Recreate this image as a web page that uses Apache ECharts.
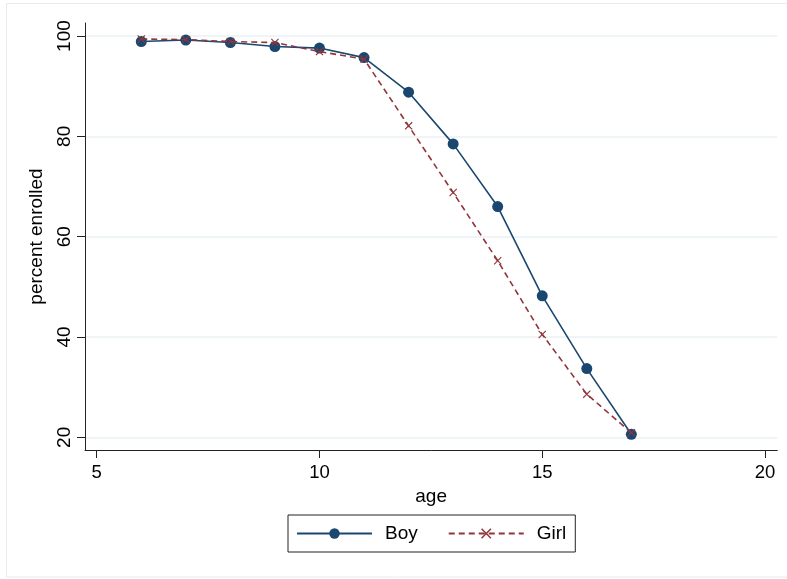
<!DOCTYPE html>
<html>
<head>
<meta charset="utf-8">
<script src="https://cdn.jsdelivr.net/npm/echarts@6/dist/echarts.min.js"></script>
<style>
  html, body { margin: 0; padding: 0; background: #ffffff; }
  #chart { width: 787px; height: 579px; }
</style>
</head>
<body>
<div id="chart"></div>
<script>
// ---- data ----
var ages = [6, 7, 8, 9, 10, 11, 12, 13, 14, 15, 16, 17];
var boyValues = [98.9, 99.2, 98.7, 97.9, 97.6, 95.7, 88.8, 78.5, 66.0, 48.2, 33.7, 20.6];
var girlValues = [99.4, 99.3, 98.9, 98.7, 96.9, 95.4, 82.1, 68.8, 55.2, 40.5, 28.6, 20.9];
var xTicks = [5, 10, 15, 20];
var yTicks = [20, 40, 60, 80, 100];
var seriesNames = ['Boy', 'Girl'];

var FONT = '"Liberation Sans", Arial, sans-serif';
var boyData = ages.map(function (a, i) { return [a, boyValues[i]]; });
var girlData = ages.map(function (a, i) { return [a, girlValues[i]]; });

var chart = echarts.init(document.getElementById('chart'), null, { renderer: 'canvas' });
chart.setOption({
  backgroundColor: '#ffffff',
  animation: false,
  graphic: [{
    type: 'rect',
    shape: { x: 6.5, y: 3.5, width: 790, height: 573.5 },
    style: { fill: 'none', stroke: '#e6ebee', lineWidth: 1 },
    silent: true, z: -1
  }],
  grid: { left: 85, top: 23, right: 9.7, bottom: 129, containLabel: false },
  xAxis: {
    type: 'value',
    min: 4.737, max: 20.276,
    name: 'age', nameLocation: 'middle', nameGap: 34,
    nameTextStyle: { fontFamily: FONT, fontSize: 19, color: '#000' },
    axisLine: { show: true, onZero: false, lineStyle: { color: '#222', width: 1 } },
    axisTick: { show: true, length: 8, customValues: xTicks, lineStyle: { color: '#222' } },
    axisLabel: { customValues: xTicks, fontFamily: FONT, fontSize: 18.5, color: '#000', margin: 13 },
    splitLine: { show: false }
  },
  yAxis: {
    type: 'value',
    min: 17.47, max: 102.6,
    name: 'percent enrolled', nameLocation: 'middle', nameGap: 39, nameRotate: 90,
    nameTextStyle: { fontFamily: FONT, fontSize: 19, color: '#000' },
    axisLine: { show: true, onZero: false, lineStyle: { color: '#222', width: 1 } },
    axisTick: { show: true, length: 8, customValues: yTicks, lineStyle: { color: '#222' } },
    axisLabel: { customValues: yTicks, rotate: 90, fontFamily: FONT, fontSize: 19, color: '#000', margin: 11 },
    splitLine: { show: true, lineStyle: { color: '#eaf1f4', width: 1.5 } }
  },
  legend: {
    left: 288, top: 515,
    padding: [9, 9, 9, 8],
    borderColor: '#222', borderWidth: 1,
    itemWidth: 75, itemHeight: 13, itemGap: 30,
    textStyle: { fontFamily: FONT, fontSize: 19, color: '#000', padding: [0, 0, 0, 8] },
    data: seriesNames
  },
  series: [{
    name: seriesNames[0],
    type: 'line',
    data: boyData,
    symbol: 'circle', symbolSize: 11,
    itemStyle: { color: '#1a476f' },
    lineStyle: { color: '#1a476f', width: 1.6 },
    z: 3
  }, {
    name: seriesNames[1],
    type: 'line',
    data: girlData,
    symbol: 'path://M1,0L5,4L9,0L10,1L6,5L10,9L9,10L5,6L1,10L0,9L4,5L0,1Z',
    symbolSize: 8,
    itemStyle: { color: '#90353b' },
    lineStyle: { color: '#90353b', width: 1.6, type: [6, 4] },
    z: 4
  }]
});
</script>
</body>
</html>
